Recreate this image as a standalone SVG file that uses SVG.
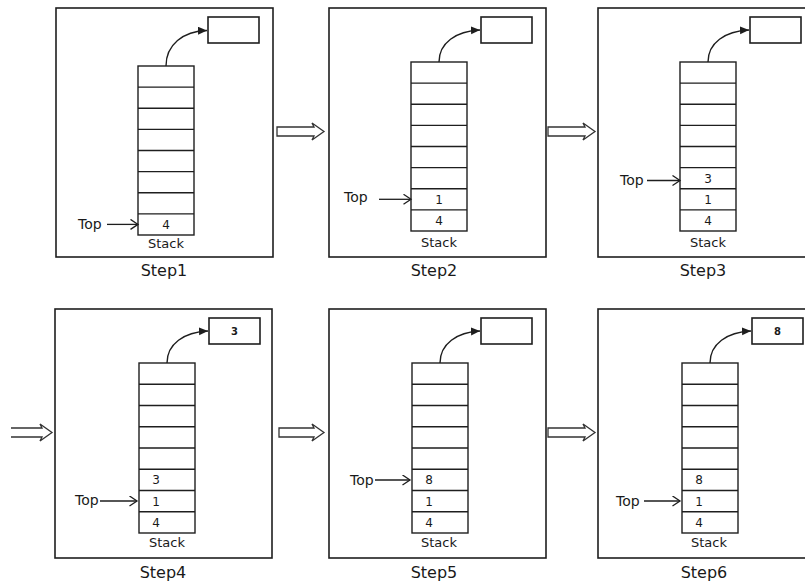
<svg xmlns="http://www.w3.org/2000/svg" width="805" height="584" viewBox="0 0 805 584">
<style>
.box{fill:#fff;stroke:#1e1e1e;stroke-width:1.6}
.stk{fill:#fff;stroke:#1e1e1e;stroke-width:1.4}
.row{stroke:#1e1e1e;stroke-width:1.4}
.sm{fill:#fff;stroke:#1e1e1e;stroke-width:1.6}
.cv{fill:none;stroke:#1e1e1e;stroke-width:1.4;marker-end:url(#fa)}
.tp{stroke:#1e1e1e;stroke-width:1.3;marker-end:url(#oa)}
.dbl{fill:#fff;stroke:#333;stroke-width:1.3}
text{font-family:"DejaVu Sans","Liberation Sans",sans-serif;fill:#1a1a1a}
.step{font-size:16px;text-anchor:middle}
.lbl{font-size:13px;text-anchor:middle}
.top{font-size:14px}
.num{font-size:12px;text-anchor:middle}
.out{font-size:10px;font-weight:bold;text-anchor:middle}
</style>
<defs>
<marker id="fa" markerUnits="userSpaceOnUse" markerWidth="10" markerHeight="10" refX="9" refY="4" orient="auto"><path d="M0,0 L9,4 L0,8 z" fill="#1e1e1e"/></marker>
<marker id="oa" markerUnits="userSpaceOnUse" markerWidth="10" markerHeight="12" refX="8.5" refY="5.5" orient="auto"><path d="M1,0.5 L8.5,5.5 L1,10.5" fill="none" stroke="#1e1e1e" stroke-width="1.3"/></marker>
</defs>
<rect width="805" height="584" fill="#fff"/>

<g id="step1">
<rect class="box" x="56" y="8" width="217" height="249"/>
<rect class="sm" x="208" y="17" width="51" height="26"/>
<rect class="stk" x="138" y="66" width="56" height="169"/>
<path class="row" d="M138,87.1H194M138,108.3H194M138,129.4H194M138,150.5H194M138,171.6H194M138,192.8H194M138,213.9H194"/>
<path class="cv" d="M166,66 C166,45 183,31 207,30.5"/>
<text class="num" x="166" y="228.8">4</text>
<text class="top" x="78" y="229">Top</text>
<line class="tp" x1="107" y1="224.4" x2="138" y2="224.4"/>
<text class="lbl" x="166" y="247.5">Stack</text>
<text class="step" x="164" y="276">Step1</text>
</g>

<g id="step2">
<rect class="box" x="329" y="8" width="217" height="249"/>
<rect class="sm" x="481" y="17" width="51" height="26"/>
<rect class="stk" x="411" y="62" width="56" height="169"/>
<path class="row" d="M411,83.1H467M411,104.3H467M411,125.4H467M411,146.5H467M411,167.6H467M411,188.8H467M411,209.9H467"/>
<path class="cv" d="M439,62 C439,43 456,31 480,30"/>
<text class="num" x="439" y="203.7">1</text>
<text class="num" x="439" y="224.8">4</text>
<text class="top" x="344" y="202">Top</text>
<line class="tp" x1="379" y1="199.3" x2="411" y2="199.3"/>
<text class="lbl" x="439" y="247">Stack</text>
<text class="step" x="434" y="276">Step2</text>
</g>

<g id="step3">
<rect class="box" x="598" y="8" width="217" height="249"/>
<rect class="sm" x="750" y="17" width="51" height="26"/>
<rect class="stk" x="680" y="62" width="56" height="169"/>
<path class="row" d="M680,83.1H736M680,104.3H736M680,125.4H736M680,146.5H736M680,167.6H736M680,188.8H736M680,209.9H736"/>
<path class="cv" d="M708,62 C708,43 725,31 749,30"/>
<text class="num" x="708" y="182.6">3</text>
<text class="num" x="708" y="203.7">1</text>
<text class="num" x="708" y="224.8">4</text>
<text class="top" x="620" y="185">Top</text>
<line class="tp" x1="647" y1="180.5" x2="680" y2="180.5"/>
<text class="lbl" x="708" y="247">Stack</text>
<text class="step" x="703" y="276">Step3</text>
</g>

<g id="step4">
<rect class="box" x="55" y="309" width="217" height="249"/>
<rect class="sm" x="209" y="318" width="51" height="26"/>
<text class="out" x="234.5" y="334.6">3</text>
<rect class="stk" x="139" y="363" width="56" height="170"/>
<path class="row" d="M139,384.25H195M139,405.5H195M139,426.75H195M139,448H195M139,469.25H195M139,490.5H195M139,511.75H195"/>
<path class="cv" d="M167,363 C167,344 184,332 208,331"/>
<text class="num" x="156" y="484.3">3</text>
<text class="num" x="156" y="505.5">1</text>
<text class="num" x="156" y="526.8">4</text>
<text class="top" x="75" y="505">Top</text>
<line class="tp" x1="100" y1="501" x2="137" y2="501"/>
<text class="lbl" x="167" y="547">Stack</text>
<text class="step" x="163" y="578">Step4</text>
</g>

<g id="step5">
<rect class="box" x="329" y="309" width="217" height="249"/>
<rect class="sm" x="481" y="318" width="51" height="26"/>
<rect class="stk" x="412" y="363" width="56" height="170"/>
<path class="row" d="M412,384.25H468M412,405.5H468M412,426.75H468M412,448H468M412,469.25H468M412,490.5H468M412,511.75H468"/>
<path class="cv" d="M440,363 C440,344 457,332 480,331"/>
<text class="num" x="429" y="484.3">8</text>
<text class="num" x="429" y="505.5">1</text>
<text class="num" x="429" y="526.8">4</text>
<text class="top" x="350" y="484.5">Top</text>
<line class="tp" x1="375" y1="480" x2="410" y2="480"/>
<text class="lbl" x="439" y="547">Stack</text>
<text class="step" x="434" y="578">Step5</text>
</g>

<g id="step6">
<rect class="box" x="598" y="309" width="217" height="249"/>
<rect class="sm" x="752" y="318" width="51" height="26"/>
<text class="out" x="777.5" y="334.6">8</text>
<rect class="stk" x="682" y="363" width="56" height="170"/>
<path class="row" d="M682,384.25H738M682,405.5H738M682,426.75H738M682,448H738M682,469.25H738M682,490.5H738M682,511.75H738"/>
<path class="cv" d="M710,363 C710,344 727,332 751,331"/>
<text class="num" x="699" y="484.3">8</text>
<text class="num" x="699" y="505.5">1</text>
<text class="num" x="699" y="526.8">4</text>
<text class="top" x="616" y="505.5">Top</text>
<line class="tp" x1="644" y1="501" x2="680" y2="501"/>
<text class="lbl" x="709" y="547">Stack</text>
<text class="step" x="704" y="578">Step6</text>
</g>

<g id="connectors">
<path class="dbl" d="M277,127 H314 L312,123 L324,131.5 L312,140 L314,136 H277 Z"/>
<path class="dbl" d="M548,127 H585 L583,123 L595,131.5 L583,140 L585,136 H548 Z"/>
<path class="dbl" d="M11,428 H42 L40,424 L52,432.5 L40,441 L42,437 H11"/>
<path class="dbl" d="M279,428 H314 L312,424 L324,432.5 L312,441 L314,437 H279 Z"/>
<path class="dbl" d="M548,428 H585 L583,424 L595,432.5 L583,441 L585,437 H548 Z"/>
</g>
</svg>
